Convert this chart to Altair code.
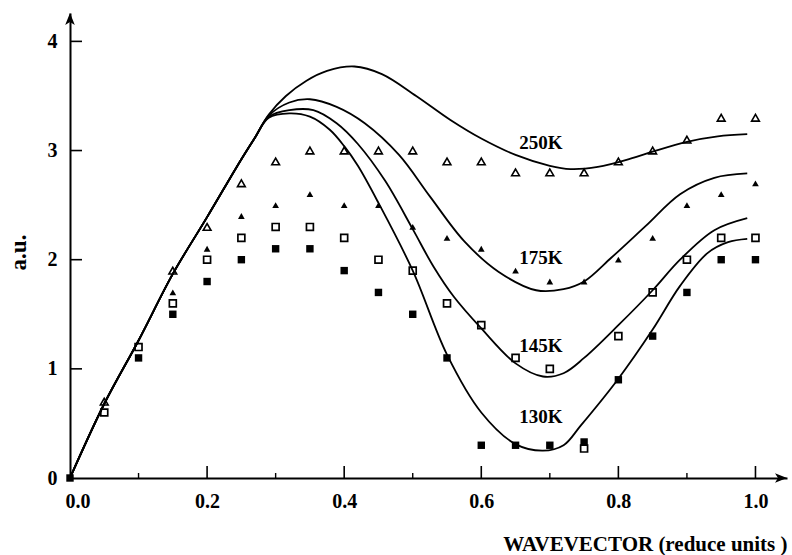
import altair as alt
import pandas as pd

# Wavevector grid of the measured points (reduced units)
q = [0.00, 0.05, 0.10, 0.15, 0.20, 0.25, 0.30, 0.35, 0.40, 0.45, 0.50,
     0.55, 0.60, 0.65, 0.70, 0.75, 0.80, 0.85, 0.90, 0.95, 1.00]

# Measured intensities (a.u.); None where no point is plotted
pts_250 = [None, 0.70, None, 1.90, 2.30, 2.70, 2.90, 3.00, 3.00, 3.00, 3.00,
           2.90, 2.90, 2.80, 2.80, 2.80, 2.90, 3.00, 3.10, 3.30, 3.30]
pts_175 = [None, None, None, 1.70, 2.10, 2.40, 2.50, 2.60, 2.50, 2.50, 2.30,
           2.20, 2.10, 1.90, 1.80, 1.80, 2.00, 2.20, 2.50, 2.60, 2.70]
pts_145 = [None, 0.60, 1.20, 1.60, 2.00, 2.20, 2.30, 2.30, 2.20, 2.00, 1.90,
           1.60, 1.40, 1.10, 1.00, 0.27, 1.30, 1.70, 2.00, 2.20, 2.20]
pts_130 = [0.00, None, 1.10, 1.50, 1.80, 2.00, 2.10, 2.10, 1.90, 1.70, 1.50,
           1.10, 0.30, 0.30, 0.30, 0.33, 0.90, 1.30, 1.70, 2.00, 2.00]

# Calculated curves: common rising branch, then one branch per temperature
rise_q = [0.00, 0.05, 0.10, 0.15, 0.20, 0.25, 0.27]
rise_a = [0.00, 0.68, 1.26, 1.87, 2.39, 2.92, 3.12]

c250_q = [0.29, 0.315, 0.345, 0.375, 0.415, 0.455, 0.505, 0.555, 0.60, 0.65,
          0.70, 0.73, 0.77, 0.82, 0.85, 0.90, 0.945, 0.988]
c250_a = [3.33, 3.50, 3.64, 3.73, 3.77, 3.70, 3.50, 3.28, 3.11, 2.96,
          2.86, 2.83, 2.85, 2.93, 2.99, 3.08, 3.13, 3.15]

c175_q = [0.29, 0.32, 0.35, 0.389, 0.43, 0.48, 0.525, 0.575, 0.625, 0.68,
          0.72, 0.75, 0.79, 0.84, 0.89, 0.94, 0.988]
c175_a = [3.32, 3.44, 3.47, 3.40, 3.25, 2.96, 2.58, 2.17, 1.89, 1.72,
          1.73, 1.80, 2.02, 2.31, 2.60, 2.75, 2.79]

c145_q = [0.29, 0.32, 0.355, 0.389, 0.42, 0.46, 0.50, 0.53, 0.56, 0.60,
          0.65, 0.69, 0.72, 0.75, 0.80, 0.85, 0.89, 0.94, 0.988]
c145_a = [3.31, 3.37, 3.37, 3.25, 3.06, 2.72, 2.28, 1.94, 1.66, 1.37,
          1.05, 0.93, 0.96, 1.10, 1.40, 1.72, 2.00, 2.27, 2.38]

c130_q = [0.29, 0.32, 0.35, 0.379, 0.40, 0.42, 0.45, 0.50, 0.55, 0.60,
          0.65, 0.69, 0.72, 0.745, 0.80, 0.85, 0.89, 0.93, 0.96, 0.988]
c130_a = [3.30, 3.34, 3.31, 3.19, 3.04, 2.86, 2.52, 1.90, 1.13, 0.60,
          0.31, 0.25, 0.30, 0.48, 0.91, 1.36, 1.76, 2.06, 2.16, 2.19]

temps = ["250K", "175K", "145K", "130K"]

# Curve label anchors (data coordinates)
label_q = [0.687, 0.687, 0.687, 0.687]
label_a = [3.07, 2.02, 1.21, 0.56]

# Axis ticks
x_major = [0.2, 0.4, 0.6, 0.8, 1.0]
x_minor = [0.1, 0.3, 0.5, 0.7, 0.9]
y_major = [1, 2, 3, 4]

W, H = 717, 465
SERIF = "Liberation Serif"

# ---- tables ----
curve_rows = []
for name, cq, ca in [("250K", c250_q, c250_a), ("175K", c175_q, c175_a),
                     ("145K", c145_q, c145_a), ("130K", c130_q, c130_a)]:
    xs = rise_q + cq
    ys = rise_a + ca
    for i, (xv, yv) in enumerate(zip(xs, ys)):
        curve_rows.append({"q": xv, "a": yv, "T": name, "order": i})
curves = pd.DataFrame(curve_rows)


def points(vals):
    return pd.DataFrame([{"q": xv, "a": yv} for xv, yv in zip(q, vals) if yv is not None])


labels = pd.DataFrame({"q": label_q, "a": label_a, "T": temps})
xmaj = pd.DataFrame({"q": x_major})
xmin = pd.DataFrame({"q": x_minor})
ymaj = pd.DataFrame({"a": y_major})

x_scale = alt.Scale(domain=[0, 1.046], nice=False, zero=False)
y_scale = alt.Scale(domain=[0, 4.26], nice=False, zero=False)

x_axis = alt.Axis(
    values=[0.0, 0.2, 0.4, 0.6, 0.8, 1.0], format=".1f", ticks=False, grid=False,
    domainColor="black", domainWidth=2,
    labelFont=SERIF, labelFontWeight="bold", labelFontSize=20, labelColor="black",
    labelPadding=13, labelFlush=1, labelFlushOffset=5,
    title="WAVEVECTOR (reduce units )", titleFont=SERIF, titleFontWeight="bold",
    titleFontSize=21, titleColor="black", titleAnchor="end", titleAlign="right",
    titleX=W, titleY=72, titleBaseline="alphabetic",
)
y_axis = alt.Axis(
    values=[0, 1, 2, 3, 4], format="d", ticks=False, grid=False,
    domainColor="black", domainWidth=2,
    labelFont=SERIF, labelFontWeight="bold", labelFontSize=20, labelColor="black",
    labelPadding=13,
    title="a.u.", titleFont=SERIF, titleFontWeight="bold", titleFontSize=23,
    titleColor="black", titleAngle=-90, titleX=-52, titleY=239,
    titleAlign="center", titleBaseline="middle",
)

X = alt.X("q:Q", scale=x_scale, axis=x_axis)
Y = alt.Y("a:Q", scale=y_scale, axis=y_axis)

lines = alt.Chart(curves).mark_line(
    interpolate="catmull-rom", color="black", strokeWidth=1.8
).encode(x=X, y=Y, detail="T:N", order="order:Q")

open_tri = alt.Chart(points(pts_250)).mark_point(
    shape="triangle-up", filled=False, color="black", size=60, strokeWidth=1.6, opacity=1
).encode(x=X, y=Y)
full_tri = alt.Chart(points(pts_175)).mark_point(
    shape="triangle-up", filled=True, color="black", size=45, opacity=1
).encode(x=X, y=Y)
full_sq = alt.Chart(points(pts_130)).mark_point(
    shape="square", filled=True, color="black", size=55, opacity=1
).encode(x=X, y=Y)
open_sq = alt.Chart(points(pts_145)).mark_point(
    shape="square", filled=False, color="black", size=48, strokeWidth=1.7, opacity=1
).encode(x=X, y=Y)

curve_text = alt.Chart(labels).mark_text(
    font=SERIF, fontWeight="bold", fontSize=19, color="black",
    align="center", baseline="middle"
).encode(x=X, y=Y, text="T:N")

tick_major_x = alt.Chart(xmaj).mark_rule(color="black", strokeWidth=1.6).encode(
    x=X, y=alt.value(H), y2=alt.value(H - 12))
tick_minor_x = alt.Chart(xmin).mark_rule(color="black", strokeWidth=1.4).encode(
    x=X, y=alt.value(H), y2=alt.value(H - 5))
tick_major_y = alt.Chart(ymaj).mark_rule(color="black", strokeWidth=1.6).encode(
    y=Y, x=alt.value(0), x2=alt.value(12))

# Arrowheads closing both axes
arrow_up = alt.Chart(pd.DataFrame({"k": [0]})).mark_point(
    shape="M0,0L-0.4,1L0,0.75L0.4,1Z", filled=True, color="black", size=576, opacity=1
).encode(x=alt.value(0), y=alt.value(0))
arrow_right = alt.Chart(pd.DataFrame({"k": [0]})).mark_point(
    shape="M0,0L-1,-0.4L-0.75,0L-1,0.4Z", filled=True, color="black", size=576, opacity=1
).encode(x=alt.value(W), y=alt.value(H))

chart = alt.layer(
    lines, open_tri, full_tri, full_sq, open_sq, curve_text,
    tick_major_x, tick_minor_x, tick_major_y, arrow_up, arrow_right,
).properties(
    width=W, height=H,
    autosize=alt.AutoSizeParams(type="none"),
    padding={"left": 70, "top": 13, "right": 5, "bottom": 77},
    background="white",
).configure_view(stroke=None)

chart.save("out.html", embed_options={"renderer": "svg", "actions": False})
